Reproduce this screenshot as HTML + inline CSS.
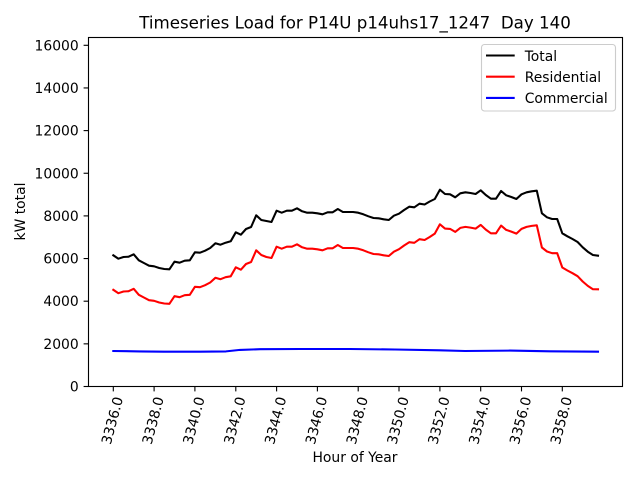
<!DOCTYPE html>
<html>
<head>
<meta charset="utf-8">
<style>
html,body{margin:0;padding:0;background:#fff;}
svg{display:block;}
text{font-family:"DejaVu Sans","Liberation Sans",sans-serif;fill:#000;}
</style>
</head>
<body>
<svg width="640" height="480" viewBox="0 0 640 480" xmlns="http://www.w3.org/2000/svg">
<rect x="0" y="0" width="640" height="480" fill="#fff"/>

<!-- title -->
<text x="355" y="28.7" font-size="16.67" text-anchor="middle">Timeseries Load for P14U p14uhs17_1247&#160; Day 140</text>

<!-- series -->
<polyline fill="none" stroke="#000" stroke-width="2.08" stroke-linejoin="round" stroke-linecap="square" points="
113.3,255.3 118.4,258.7 123.5,257 128.6,256.7 133.7,254.3 138.8,260.3 143.9,263 149.0,265.7 154.1,266.3 159.2,268
164.3,269 169.4,269.3 174.5,261.7 179.6,262.7 184.7,260.7 189.8,260.3 194.9,252.3 200.0,252.7 205.1,250.7 210.2,248
215.4,243.3 220.5,244.7 225.6,242.7 230.7,241.3 235.8,232.3 240.9,234.7 246.0,229 251.1,227 256.2,215.3 261.3,220
266.4,221 271.5,222 276.6,210.7 281.7,212.7 286.8,210.7 291.9,210.7 297.0,208.3 302.1,211.3 307.2,212.7 312.3,212.7
317.4,213.3 322.5,214.3 327.6,212.3 332.7,212.3 337.8,209 342.9,212 348.0,212 353.1,212 358.2,212.7 363.3,214.3
368.4,216.3 373.5,218 378.6,218.3 383.7,219.3 388.8,220 393.9,215.7 399.0,213.7 404.1,210 409.2,206.7 414.3,207.3
419.5,203.7 424.6,204.5 429.7,201.5 434.8,199 439.9,189.7 445.0,194 450.1,194.3 455.2,197.3 460.3,193.3 465.4,192.3
470.5,193 475.6,194 480.7,190.3 485.8,195 490.9,198.7 496.0,198.7 501.1,191 506.2,195.3 511.3,197 516.4,199
521.5,194.3 526.6,192.3 531.7,191.3 536.8,190.7 541.9,213.3 547.0,217.3 552.1,219 557.2,219 562.3,233.3 567.4,236.3
572.5,239 577.6,242 582.7,247.3 587.8,251.7 592.9,255 598.0,255.7"/>

<polyline fill="none" stroke="#ff0000" stroke-width="2.08" stroke-linejoin="round" stroke-linecap="square" points="
113.3,289.8 118.4,293.2 123.5,291.5 128.6,291.2 133.7,288.8 138.8,294.8 143.9,297.5 149.0,300.2 154.1,300.8 159.2,302.5
164.3,303.5 169.4,303.8 174.5,296.2 179.6,297.2 184.7,295.2 189.8,294.8 194.9,286.8 200.0,287.2 205.1,285.2 210.2,282.5
215.4,277.8 220.5,279.2 225.6,277.2 230.7,276.3 235.8,267.3 240.9,269.7 246.0,264 251.1,262 256.2,250.3 261.3,255
266.4,257 271.5,258 276.6,246.7 281.7,248.7 286.8,246.7 291.9,246.7 297.0,244.3 302.1,247.3 307.2,248.7 312.3,248.7
317.4,249.3 322.5,250.3 327.6,248.3 332.7,248.3 337.8,245 342.9,248 348.0,248 353.1,248 358.2,248.7 363.3,250.3
368.4,252.3 373.5,254 378.6,254.3 383.7,255.3 388.8,256 393.9,251.7 399.0,249.2 404.1,245.5 409.2,242.2 414.3,242.8
419.5,239.2 424.6,240 429.7,237 434.8,233.6 439.9,224.3 445.0,228.6 450.1,228.9 455.2,231.9 460.3,227.9 465.4,226.9
470.5,227.6 475.6,228.6 480.7,224.9 485.8,229.6 490.9,233.3 496.0,233.3 501.1,225.6 506.2,229.9 511.3,231.6 516.4,233.6
521.5,228.9 526.6,226.9 531.7,225.9 536.8,225.3 541.9,247.5 547.0,251.5 552.1,253.2 557.2,253.2 562.3,267.5 567.4,270.5
572.5,273.2 577.6,276.2 582.7,281.5 587.8,285.9 592.9,289.2 598.0,289.3"/>

<polyline fill="none" stroke="#0000ff" stroke-width="2.08" stroke-linejoin="round" stroke-linecap="square" points="
113.3,351 140,351.4 164,351.7 200,351.7 226,351.4 240,349.9 260,349.2 300,349 350,349 395,349.5 440,350.3 465,351 510,350.6 550,351.3 598,351.7"/>

<!-- axes frame -->
<rect x="88.5" y="37.5" width="534" height="349" fill="none" stroke="#000" stroke-width="1.11"/>

<!-- y ticks -->
<g stroke="#000" stroke-width="1.11">
<line x1="83.6" y1="386.5" x2="88.5" y2="386.5"/>
<line x1="83.6" y1="343.85" x2="88.5" y2="343.85"/>
<line x1="83.6" y1="301.2" x2="88.5" y2="301.2"/>
<line x1="83.6" y1="258.55" x2="88.5" y2="258.55"/>
<line x1="83.6" y1="215.9" x2="88.5" y2="215.9"/>
<line x1="83.6" y1="173.25" x2="88.5" y2="173.25"/>
<line x1="83.6" y1="130.6" x2="88.5" y2="130.6"/>
<line x1="83.6" y1="87.95" x2="88.5" y2="87.95"/>
<line x1="83.6" y1="45.3" x2="88.5" y2="45.3"/>
</g>
<g font-size="13.89" text-anchor="end">
<text x="78.7" y="391.5">0</text>
<text x="78.7" y="348.9">2000</text>
<text x="78.7" y="306.2">4000</text>
<text x="78.7" y="263.6">6000</text>
<text x="78.7" y="220.9">8000</text>
<text x="78.7" y="178.3">10000</text>
<text x="78.7" y="135.6">12000</text>
<text x="78.7" y="93.0">14000</text>
<text x="78.7" y="50.3">16000</text>
</g>

<!-- x ticks -->
<g stroke="#000" stroke-width="1.11">
<line x1="113.3" y1="386.5" x2="113.3" y2="391.4"/>
<line x1="154.1" y1="386.5" x2="154.1" y2="391.4"/>
<line x1="194.9" y1="386.5" x2="194.9" y2="391.4"/>
<line x1="235.8" y1="386.5" x2="235.8" y2="391.4"/>
<line x1="276.6" y1="386.5" x2="276.6" y2="391.4"/>
<line x1="317.4" y1="386.5" x2="317.4" y2="391.4"/>
<line x1="358.2" y1="386.5" x2="358.2" y2="391.4"/>
<line x1="399.0" y1="386.5" x2="399.0" y2="391.4"/>
<line x1="439.9" y1="386.5" x2="439.9" y2="391.4"/>
<line x1="480.7" y1="386.5" x2="480.7" y2="391.4"/>
<line x1="521.5" y1="386.5" x2="521.5" y2="391.4"/>
<line x1="562.3" y1="386.5" x2="562.3" y2="391.4"/>
</g>
<g font-size="13.89">
<text x="110.6" y="445.2" transform="rotate(-75 110.6 445.2)">3336.0</text>
<text x="151.4" y="445.2" transform="rotate(-75 151.4 445.2)">3338.0</text>
<text x="192.2" y="445.2" transform="rotate(-75 192.2 445.2)">3340.0</text>
<text x="233.1" y="445.2" transform="rotate(-75 233.1 445.2)">3342.0</text>
<text x="273.9" y="445.2" transform="rotate(-75 273.9 445.2)">3344.0</text>
<text x="314.7" y="445.2" transform="rotate(-75 314.7 445.2)">3346.0</text>
<text x="355.5" y="445.2" transform="rotate(-75 355.5 445.2)">3348.0</text>
<text x="396.3" y="445.2" transform="rotate(-75 396.3 445.2)">3350.0</text>
<text x="437.2" y="445.2" transform="rotate(-75 437.2 445.2)">3352.0</text>
<text x="478.0" y="445.2" transform="rotate(-75 478.0 445.2)">3354.0</text>
<text x="518.8" y="445.2" transform="rotate(-75 518.8 445.2)">3356.0</text>
<text x="559.6" y="445.2" transform="rotate(-75 559.6 445.2)">3358.0</text>
</g>

<!-- axis labels -->
<text x="355" y="462" font-size="13.89" text-anchor="middle">Hour of Year</text>
<text x="25" y="211.5" font-size="13.89" text-anchor="middle" transform="rotate(-90 25 211.5)">kW total</text>

<!-- legend -->
<rect x="481.5" y="44.5" width="134" height="66.5" rx="3" ry="3" fill="#fff" fill-opacity="0.8" stroke="#cccccc" stroke-width="1.1"/>
<line x1="486" y1="55.5" x2="514.7" y2="55.5" stroke="#000" stroke-width="2.08"/>
<line x1="486" y1="76.7" x2="514.7" y2="76.7" stroke="#ff0000" stroke-width="2.08"/>
<line x1="486" y1="97.9" x2="514.7" y2="97.9" stroke="#0000ff" stroke-width="2.08"/>
<g font-size="13.89">
<text x="524.7" y="60.8">Total</text>
<text x="524.7" y="82">Residential</text>
<text x="524.7" y="103.2">Commercial</text>
</g>
</svg>
</body>
</html>
